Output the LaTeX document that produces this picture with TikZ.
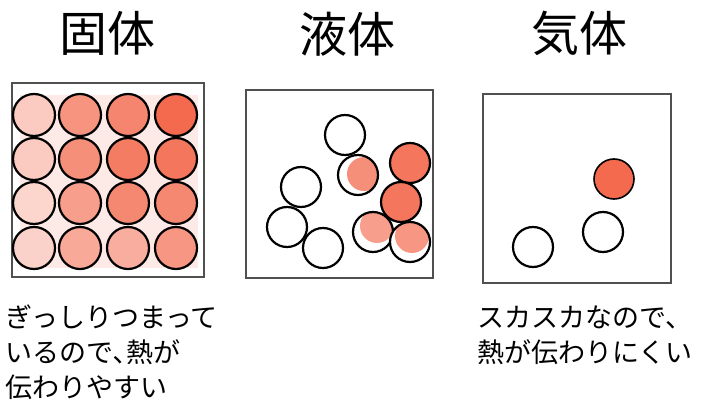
\documentclass[tikz,border=0pt]{standalone}
\usepackage{fontspec}
\newfontfamily\jpfont{Noto Sans CJK JP}
\definecolor{heat}{RGB}{243,106,78}
\definecolor{boxline}{RGB}{80,80,80}
\begin{document}
\begin{tikzpicture}[x=1pt,y=-1pt,font=\jpfont]
    \tikzset{
        container/.style={draw=boxline,line width=1.6pt},
        particle/.style={draw=black,line width=2.2pt},
        title/.style={font=\jpfont\fontsize{48}{48}\selectfont,inner sep=0pt},
        caption/.style={
            font=\jpfont\fontsize{27}{35}\selectfont,
            align=left,
            anchor=north west,
            inner sep=0pt
        }
    }
    \useasboundingbox[fill=white] (0,0) rectangle (702,409);

    \node[title] (solid) at (107,33) {固体};
    \node[title] (liquid) at (347,34) {液体};
    \node[title] (gas) at (579,33) {気体};

    % solid: packed grid, redder towards the right
    \draw[container] (12,83) rectangle (204,277);
    \fill[heat!14] (20,95) rectangle (198,268);
    \foreach \cx/\cy/\amt in {
        34/115/35, 80/115/72, 128/115/82, 176/115/100,
        34/159/35, 80/159/75, 128/159/88, 176/159/92,
        34/203/28, 80/203/65, 128/203/80, 176/203/80,
        34/248/30, 80/248/58, 128/248/55, 176/248/70}
        \filldraw[particle,fill=heat!\amt] (\cx,\cy) circle[radius=21];

    % liquid: loose cluster
    \draw[container] (246,90) rectangle (433,278);
    \foreach \cx/\cy in {345/135, 301/187, 287/227, 323/248}
        \draw[particle,fill=white] (\cx,\cy) circle[radius=20];
    \foreach \cx/\cy in {410/163, 401/202}
        \filldraw[particle,fill=heat!92] (\cx,\cy) circle[radius=20];
    \foreach \cx/\cy/\dx/\dy/\amt in {358/175/6/-1/75, 373/232/4/-6/65, 410/242/2/-6/70}
    {
        \begin{scope}
            \clip (\cx,\cy) circle[radius=20];
            \fill[white] (\cx,\cy) circle[radius=20];
            \fill[heat!\amt] (\cx+\dx,\cy+\dy) circle[radius=17];
        \end{scope}
        \draw[particle] (\cx,\cy) circle[radius=20];
    }

    % gas: few particles far apart
    \draw[container] (483,94) rectangle (671,283);
    \filldraw[particle,line width=1.6pt,fill=heat] (614,179) circle[radius=20];
    \draw[particle] (603,232) circle[radius=20];
    \draw[particle] (533,247) circle[radius=20];

    \node[caption] (solidtext) at (5,305)
        {ぎっしりつまって\\いるので､熱が\\伝わりやすい};
    \node[caption] (gastext) at (477,306)
        {スカスカなので、\\熱が伝わりにくい};
\end{tikzpicture}
\end{document}
